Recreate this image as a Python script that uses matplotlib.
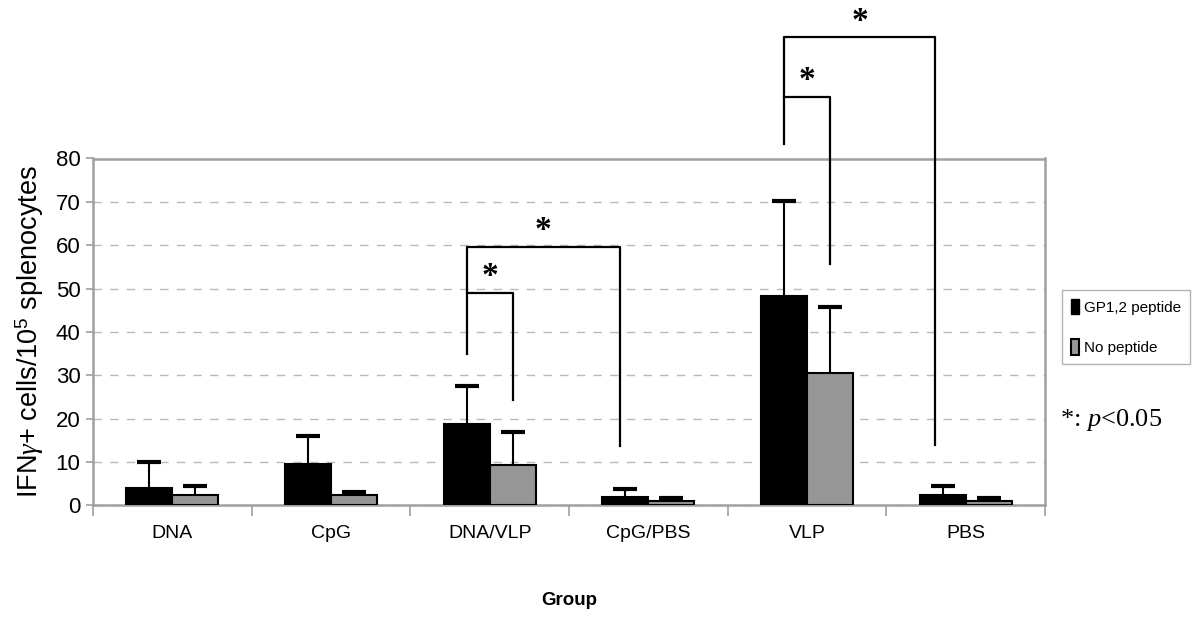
import numpy as np
import matplotlib
matplotlib.use("Agg")
import matplotlib.pyplot as plt
from matplotlib.patches import Patch

plt.rcParams.update({
    "font.family": ["Liberation Sans", "DejaVu Sans"],
    "mathtext.fontset": "custom",
    "mathtext.rm": "Liberation Sans",
    "mathtext.it": "Liberation Serif:italic",
})

groups = ["DNA", "CpG", "DNA/VLP", "CpG/PBS", "VLP", "PBS"]
gp12_mean = [4.1, 9.5, 18.7, 1.9, 48.3, 2.5]
gp12_err = [5.9, 6.6, 8.9, 1.9, 21.8, 2.1]
nopep_mean = [2.5, 2.5, 9.4, 1.05, 30.6, 1.1]
nopep_err = [2.1, 0.7, 7.5, 0.7, 15.1, 0.6]

# significance brackets: (left x, big right x, small right x, big top, small top,
#                         left leg bottom, big right bottom, small right bottom)
brackets = [
    (1.855, 2.82, 2.145, 59.6, 49.1, 35.0, 13.8, 24.3),
    (3.855, 4.81, 4.145, 107.9, 94.1, 83.4, 13.9, 55.6),
]

grid_col = "#b8b8b8"
axis_col = "#a0a0a0"
grey_bar = "#969696"

fig = plt.figure(figsize=(12, 6.34), dpi=100)
ax = fig.add_axes([0.0775, 0.2027, 0.7933, 0.5473])

x = np.arange(len(groups))
w = 0.29
ax.bar(x - w / 2, gp12_mean, w, color="black", edgecolor="black", linewidth=1.5,
       label="GP1,2 peptide", zorder=3)
ax.bar(x + w / 2, nopep_mean, w, color=grey_bar, edgecolor="black", linewidth=1.5,
       label="No peptide", zorder=3)

# upper error bars only
cap = 0.075
for xs, m, e in [(x - w / 2, gp12_mean, gp12_err), (x + w / 2, nopep_mean, nopep_err)]:
    top = np.array(m) + np.array(e)
    ax.vlines(xs, m, top, color="black", lw=1.5, zorder=4)
    ax.hlines(top, xs - cap, xs + cap, color="black", lw=3, zorder=4)

# brackets (drawn outside the axes too)
lk = dict(color="black", lw=1.6, clip_on=False, zorder=5)
for lx, brx, srx, btop, stop, lbot, brbot, srbot in brackets:
    ax.plot([lx, lx, brx, brx], [lbot, btop, btop, brbot], **lk)
    ax.plot([lx, srx, srx], [stop, stop, srbot], **lk)
    ax.text((lx + brx) / 2, btop + 0.2, "*", ha="center", va="bottom", fontsize=24,
            family="Liberation Serif", fontweight="bold", clip_on=False)
    ax.text((lx + srx) / 2, stop + 0.2, "*", ha="center", va="bottom", fontsize=24,
            family="Liberation Serif", fontweight="bold", clip_on=False)

ax.set_xlim(-0.5, len(groups) - 0.5)
ax.set_ylim(0, 80)
ax.set_yticks(np.arange(0, 81, 10))
ax.set_xticks(x)
ax.set_xticklabels(groups, fontsize=14)
ax.set_xticks(np.arange(-0.5, len(groups), 1), minor=True)
ax.tick_params(axis="x", which="major", length=0, pad=14)
ax.tick_params(axis="x", which="minor", length=8, color=axis_col, width=1.2)
ax.tick_params(axis="y", labelsize=16, length=5, color=axis_col, width=1.2, pad=4)

for s in ax.spines.values():
    s.set_color(axis_col)
    s.set_linewidth(1.8)

ax.yaxis.grid(True, linestyle=(0, (6, 6)), color=grid_col, linewidth=1.0, zorder=0)
ax.set_axisbelow(True)

ax.set_ylabel(r"IFN$\gamma$+ cells/10$^{\mathrm{5}}$ splenocytes", fontsize=19.5,
              labelpad=7)
ax.set_xlabel("Group", fontsize=13.5, fontweight="bold", labelpad=36)

fig.legend(handles=[Patch(facecolor="black", edgecolor="black", label="GP1,2 peptide"),
                    Patch(facecolor=grey_bar, edgecolor="black", lw=1.5, label="No peptide")],
           loc="center left", bbox_to_anchor=(1062 / 1200, 1 - 327 / 634), fontsize=11,
           frameon=True, fancybox=False, edgecolor=axis_col, handlelength=0.5,
           handleheight=1.2, handletextpad=0.35, labelspacing=1.6, borderpad=0.6,
           borderaxespad=0)

fig.text(1060 / 1200, 1 - 420 / 634, r"*: $\mathit{p}$<0.05", fontsize=19,
         family="Liberation Serif", va="center", ha="left")

fig.savefig("out.png", dpi=100)
